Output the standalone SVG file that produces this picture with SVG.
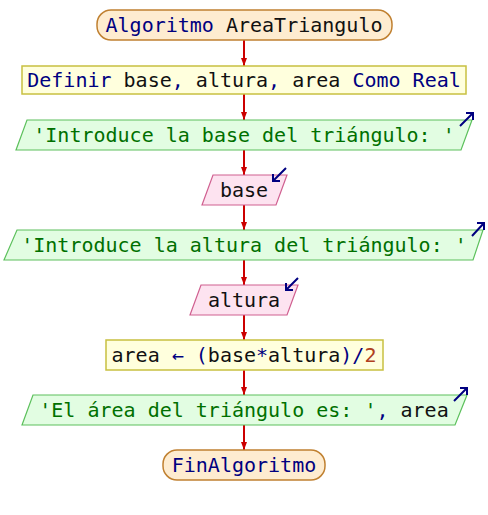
<svg xmlns="http://www.w3.org/2000/svg" width="488" height="515" viewBox="0 0 488 515">
  <defs>
    <style>
      text { font-family: "DejaVu Sans Mono", "Liberation Mono", monospace; font-size: 20px; text-anchor: middle; fill: #111; }
      .term { fill: #feecd0; stroke: #c08030; stroke-width: 1.5; }
      .proc { fill: #ffffdd; stroke: #c8c040; stroke-width: 1.5; }
      .out { fill: #e2fde2; stroke: #5cc05c; stroke-width: 1.2; }
      .in { fill: #fde3f0; stroke: #d06090; stroke-width: 1.2; }
      .kw { fill: #000080; }
      .str { fill: #007000; }
      .num { fill: #b04020; }
      .io { stroke: #000080; stroke-width: 2; fill: none; }
      .edge { stroke: #cc0000; stroke-width: 2; fill: none; }
    </style>
    <marker id="ah" markerWidth="8" markerHeight="6" refX="8" refY="3" orient="auto" markerUnits="userSpaceOnUse">
      <path d="M0,0 L8,3 L0,6 Z" fill="#cc0000"/>
    </marker>
  </defs>
  <rect width="488" height="515" fill="#ffffff"/>

  <g id="connectors">
    <line class="edge" x1="244" y1="40" x2="244" y2="66" marker-end="url(#ah)"/>
    <line class="edge" x1="244" y1="94" x2="244" y2="120" marker-end="url(#ah)"/>
    <line class="edge" x1="244" y1="150" x2="244" y2="175" marker-end="url(#ah)"/>
    <line class="edge" x1="244" y1="205" x2="244" y2="230" marker-end="url(#ah)"/>
    <line class="edge" x1="244" y1="260" x2="244" y2="285" marker-end="url(#ah)"/>
    <line class="edge" x1="244" y1="315" x2="244" y2="340" marker-end="url(#ah)"/>
    <line class="edge" x1="244" y1="370" x2="244" y2="395" marker-end="url(#ah)"/>
    <line class="edge" x1="244" y1="425" x2="244" y2="450" marker-end="url(#ah)"/>
  </g>

  <g id="start">
    <rect class="term" x="97" y="10" width="295" height="30" rx="14"/>
    <text x="244" y="32" xml:space="preserve"><tspan class="kw">Algoritmo</tspan> AreaTriangulo</text>
  </g>

  <g id="define">
    <rect class="proc" x="22" y="66" width="444" height="28"/>
    <text x="244" y="87" xml:space="preserve"><tspan class="kw">Definir</tspan> base<tspan class="kw">,</tspan> altura<tspan class="kw">,</tspan> area <tspan class="kw">Como Real</tspan></text>
  </g>

  <g id="write-base">
    <polygon class="out" points="27,120 472,120 461,150 16,150"/>
    <text x="244" y="142" xml:space="preserve"><tspan class="str">'Introduce la base del triángulo: '</tspan></text>
    <path class="io" d="M460,126 L473,113 M466,113 L473,113 L473,120"/>
  </g>

  <g id="read-base">
    <polygon class="in" points="213,175 287,175 276,205 202,205"/>
    <text x="244" y="197">base</text>
    <path class="io" d="M286,168 L273,181 M273,174 L273,181 L280,181"/>
  </g>

  <g id="write-altura">
    <polygon class="out" points="17,230 483,230 473,260 4,260"/>
    <text x="244" y="252" xml:space="preserve"><tspan class="str">'Introduce la altura del triángulo: '</tspan></text>
    <path class="io" d="M472,236 L484,223 M477,223 L484,223 L484,230"/>
  </g>

  <g id="read-altura">
    <polygon class="in" points="201,285 298,285 287,315 190,315"/>
    <text x="244" y="307">altura</text>
    <path class="io" d="M298,278 L286,290 M286,283 L286,290 L293,290"/>
  </g>

  <g id="compute">
    <rect class="proc" x="106" y="340" width="277" height="30"/>
    <text x="244" y="362" xml:space="preserve">area <tspan class="kw">← (</tspan>base<tspan class="kw">*</tspan>altura<tspan class="kw">)/</tspan><tspan class="num">2</tspan></text>
  </g>

  <g id="write-area">
    <polygon class="out" points="33,395 467,395 455,425 22,425"/>
    <text x="244" y="417" xml:space="preserve"><tspan class="str">'El área del triángulo es: '</tspan><tspan class="kw">,</tspan> area</text>
    <path class="io" d="M454,401 L467,388 M460,388 L467,388 L467,395"/>
  </g>

  <g id="end">
    <rect class="term" x="163" y="450" width="162" height="30" rx="14"/>
    <text x="244" y="472" class="kw">FinAlgoritmo</text>
  </g>
</svg>
